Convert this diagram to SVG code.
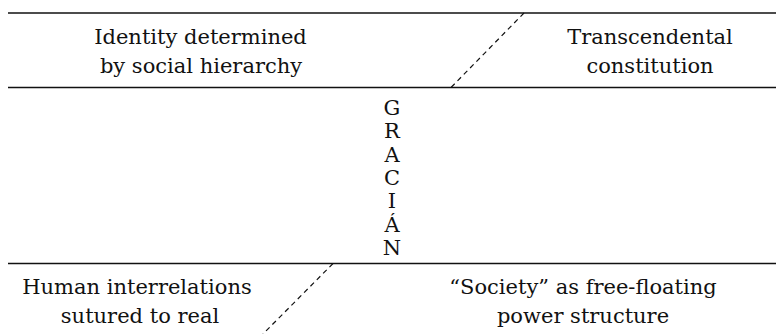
<svg xmlns="http://www.w3.org/2000/svg" width="776" height="334" viewBox="0 0 776 334">
<style>
.rule{stroke:#111;stroke-width:1.6;fill:none}
.dash{stroke:#111;stroke-width:1.2;stroke-dasharray:5 4;fill:none}
text{font-family:"DejaVu Serif","Liberation Serif",serif;font-size:21px;fill:#111;text-anchor:middle}
</style>
<rect width="776" height="334" fill="#fff"/>
<g id="connectors">
<line class="rule" x1="8" y1="13" x2="776" y2="13"/>
<line class="rule" x1="8" y1="87.5" x2="776" y2="87.5"/>
<line class="rule" x1="8" y1="263.5" x2="776" y2="263.5"/>
<line class="dash" x1="524" y1="13" x2="451" y2="87.5"/>
<line class="dash" x1="333" y1="263.5" x2="263" y2="334"/>
</g>
<g id="identity">
<text x="200.5" y="44">Identity determined</text>
<text x="201" y="73">by social hierarchy</text>
</g>
<g id="transcendental">
<text x="650" y="44">Transcendental</text>
<text x="650" y="73">constitution</text>
</g>
<g id="gracian">
<text x="392" y="115">G</text>
<text x="392" y="138">R</text>
<text x="392" y="161.5">A</text>
<text x="392" y="185">C</text>
<text x="392" y="208">I</text>
<text x="392" y="231.5">Á</text>
<text x="392" y="255">N</text>
</g>
<g id="human">
<text x="137" y="294">Human interrelations</text>
<text x="140" y="323">sutured to real</text>
</g>
<g id="society">
<text x="583" y="294">“Society” as free-floating</text>
<text x="583" y="323">power structure</text>
</g>
</svg>
